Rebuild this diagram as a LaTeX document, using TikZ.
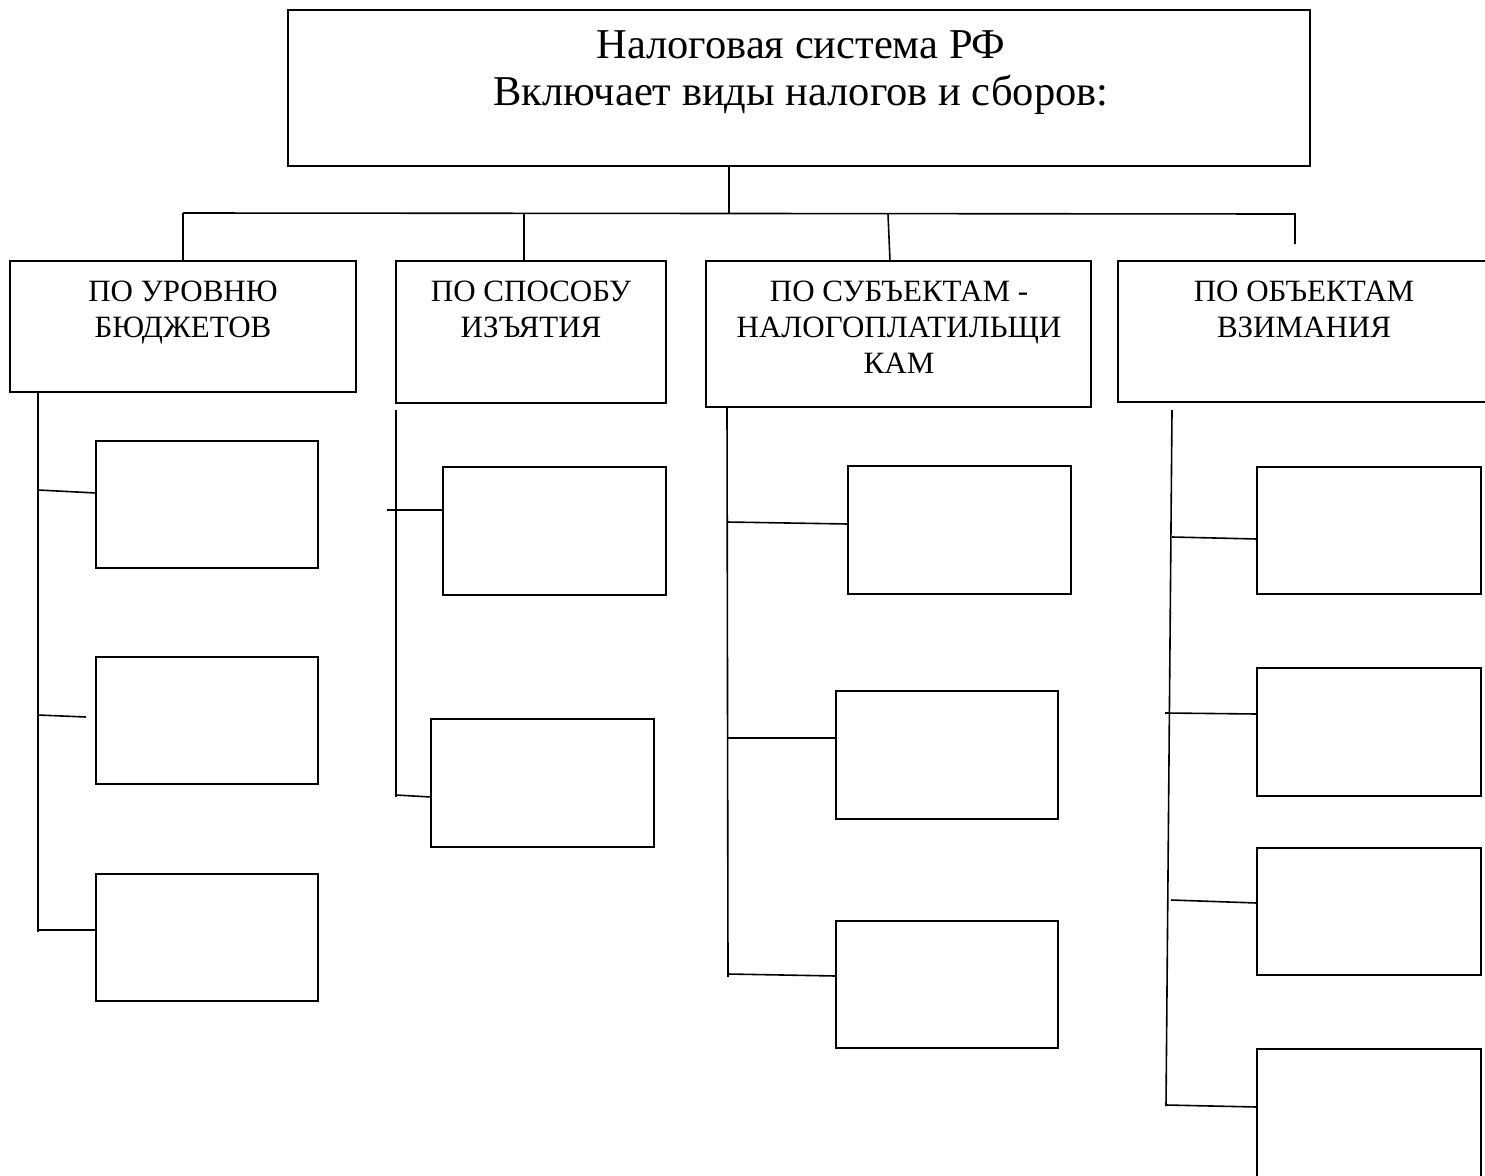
\documentclass[tikz,border=0pt]{standalone}
\usepackage{fontspec}
\setmainfont{Liberation Serif}
\usetikzlibrary{calc}
\begin{document}
\begin{tikzpicture}[x=1pt,y=-1pt,
  box/.style={draw, line width=1.6pt, inner sep=0pt, outer sep=0pt, anchor=north west},
  conn/.style={line width=1.6pt},
  ttl/.style={align=center, inner sep=0pt, anchor=north, font=\fontsize{42.5}{47}\selectfont},
  cat/.style={align=center, inner sep=0pt, anchor=north, font=\fontsize{31}{36}\selectfont},
]
\clip (0,0) rectangle (1485,1175);
\fill[white] (0,0) rectangle (1485,1175);

% top box
\node[box, minimum width=1022pt, minimum height=156pt] (top) at (288,10) {};
\node[ttl] (ttext) at (801,30) {Налоговая система РФ\\Включает виды налогов и сборов:};

% category boxes
\node[box, minimum width=346pt, minimum height=131pt] (b1) at (10,261) {};
\node[box, minimum width=270pt, minimum height=142pt] (b2) at (396,261) {};
\node[box, minimum width=385pt, minimum height=146pt] (b3) at (706,261) {};
\node[box, minimum width=380pt, minimum height=141pt] (b4) at (1118,261) {};
\node[cat] (t1) at (183,281) {ПО УРОВНЮ\\БЮДЖЕТОВ};
\node[cat] (t2) at (531,281) {ПО СПОСОБУ\\ИЗЪЯТИЯ};
\node[cat] (t3) at (899,281) {ПО СУБЪЕКТАМ -\\НАЛОГОПЛАТИЛЬЩИ\\КАМ};
\node[cat] (t4) at (1304,281) {ПО ОБЪЕКТАМ\\ВЗИМАНИЯ};

% column 1 boxes
\node[box, minimum width=222pt, minimum height=127pt] (a1) at (96,441) {};
\node[box, minimum width=222pt, minimum height=127pt] (a2) at (96,657) {};
\node[box, minimum width=222pt, minimum height=127pt] (a3) at (96,874) {};
% column 2 boxes
\node[box, minimum width=223pt, minimum height=128pt] (e1) at (443,467) {};
\node[box, minimum width=223pt, minimum height=128pt] (e2) at (431,719) {};
% column 3 boxes
\node[box, minimum width=223pt, minimum height=128pt] (g1) at (848,466) {};
\node[box, minimum width=222pt, minimum height=128pt] (g2) at (836,691) {};
\node[box, minimum width=222pt, minimum height=127pt] (g3) at (836,921) {};
% column 4 boxes
\node[box, minimum width=224pt, minimum height=127pt] (h1) at (1257,467) {};
\node[box, minimum width=224pt, minimum height=128pt] (h2) at (1257,668) {};
\node[box, minimum width=224pt, minimum height=127pt] (h3) at (1257,848) {};
\node[box, minimum width=224pt, minimum height=200pt] (h4) at (1257,1049) {};

% bus coordinates
\coordinate (stemT) at (729,166);
\coordinate (stemB) at (729,213);
\coordinate (busL) at (183,213);
\coordinate (busR) at (1295,214);
\coordinate (d2t) at (524,213);
\coordinate (d2b) at (524,261);
\coordinate (d3t) at (888,214);
\coordinate (d3b) at (890,261);
\coordinate (d4b) at (1295,244);

\draw[conn] (stemT) -- (stemB);
\draw[conn] (busL) -- (busR) -- (d4b);
\draw[conn] (busL) -- (b1.north);
\draw[conn] (d2t) -- (d2b);
\draw[conn] (d3t) -- (d3b);

% column 1
\coordinate (s1t) at (38,392);
\coordinate (s1b) at (38,932);
\coordinate (c1a) at (38,490);
\coordinate (c1b) at (38,715);
\coordinate (c1bE) at (86,717);
\coordinate (c1c) at (38,930);
\draw[conn] (s1t) -- (s1b);
\draw[conn] (c1a) -- ($(a1.north west)+(0,52)$);
\draw[conn] (c1b) -- (c1bE);
\draw[conn] (c1c) -- ($(a3.north west)+(0,56)$);

% column 2
\coordinate (s2t) at (396,410);
\coordinate (s2b) at (396,797);
\coordinate (c2a) at (387,510);
\coordinate (c2b) at (396,795);
\draw[conn] (s2t) -- (s2b);
\draw[conn] (c2a) -- ($(e1.north west)+(0,43)$);
\draw[conn] (c2b) -- ($(e2.north west)+(0,78)$);

% column 3
\coordinate (s3t) at (727,407);
\coordinate (s3b) at (728,977);
\coordinate (c3a) at (727,522);
\coordinate (c3b) at (727,738);
\coordinate (c3c) at (728,974);
\draw[conn] (s3t) -- (s3b);
\draw[conn] (c3a) -- ($(g1.north west)+(0,58)$);
\draw[conn] (c3b) -- ($(g2.north west)+(0,47)$);
\draw[conn] (c3c) -- ($(g3.north west)+(0,55)$);

% column 4
\coordinate (s4t) at (1172,410);
\coordinate (s4b) at (1166,1106);
\coordinate (c4a) at (1172,537);
\coordinate (c4b) at (1165,713);
\coordinate (c4c) at (1171,900);
\coordinate (c4d) at (1166,1105);
\draw[conn] (s4t) -- (s4b);
\draw[conn] (c4a) -- ($(h1.north west)+(0,72)$);
\draw[conn] (c4b) -- ($(h2.north west)+(0,46)$);
\draw[conn] (c4c) -- ($(h3.north west)+(0,55)$);
\draw[conn] (c4d) -- ($(h4.north west)+(0,58)$);
\end{tikzpicture}
\end{document}
